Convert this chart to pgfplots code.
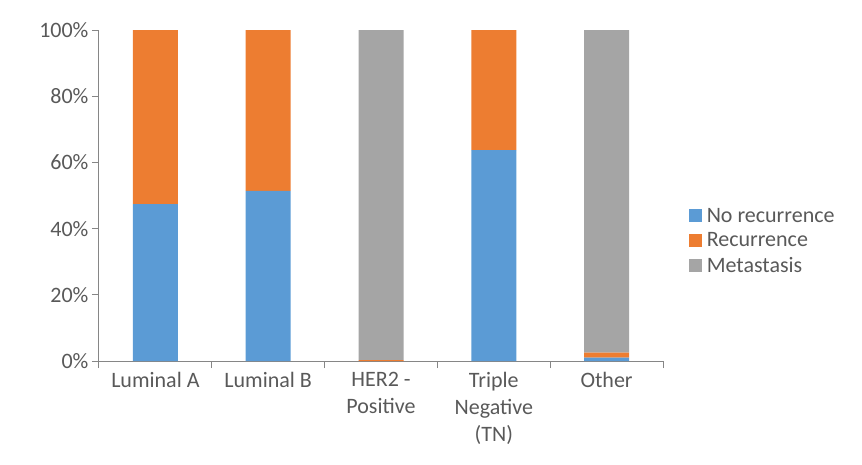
\documentclass[border=0pt]{standalone}
\usepackage{pgfplots}
\pgfplotsset{compat=1.18}
\usepackage{fontspec}
\setmainfont{Carlito}
\definecolor{cblue}{HTML}{5B9BD5}
\definecolor{corange}{HTML}{ED7D31}
\definecolor{cgray}{HTML}{A5A5A5}
\definecolor{txtgray}{HTML}{595959}
\definecolor{linegray}{HTML}{868686}
\begin{document}
\begin{tikzpicture}
\begin{axis}[
  at={(0,0)}, anchor=south west,
  scale only axis, width=564pt, height=331pt,
  ybar stacked, bar width=45pt,
  xmin=-0.5, xmax=4.5, ymin=0, ymax=100,
  axis x line=bottom, axis y line=left,
  axis line style={-, draw=linegray, line width=1pt},
  tick align=outside,
  major tick length=7pt, minor tick length=7pt,
  every tick/.style={draw=linegray, line width=1pt},
  xtick={0,...,4},
  major x tick style={draw=none},
  minor xtick={-0.5,0.5,1.5,2.5,3.5,4.5},
  xticklabels={Luminal A, Luminal B, {HER2 -\\Positive}, {Triple\\Negative\\(TN)}, Other},
  xticklabel style={align=center, font=\fontsize{22}{27}\selectfont, text=txtgray, yshift=-1pt},
  ytick={0,20,...,100},
  yticklabel={\pgfmathprintnumber{\tick}\%},
  yticklabel style={font=\fontsize{22}{25}\selectfont, text=txtgray},
  /pgf/number format/assume math mode=true,
  legend style={at={(1.04,0.3625)}, anchor=west, draw=none, fill=none,
    font=\fontsize{22}{25}\selectfont, text=txtgray, row sep=5pt},
  legend cell align=left,
  legend image code/.code={\fill[#1] (0pt,-6.5pt) rectangle (13pt,6.5pt); \path (16pt,0pt);},
]
\addplot[fill=cblue, draw=none] coordinates {(0,47.4) (1,51.4) (2,0) (3,63.7) (4,1.0)};
\addplot[fill=corange, draw=none] coordinates {(0,52.6) (1,48.6) (2,0.3) (3,36.3) (4,1.5)};
\addplot[fill=cgray, draw=none] coordinates {(0,0) (1,0) (2,99.7) (3,0) (4,97.5)};
\legend{No recurrence, Recurrence, Metastasis}
\end{axis}
\pgfresetboundingbox
\path (-99pt,-103pt) rectangle (763pt,361pt);
\end{tikzpicture}
\end{document}
